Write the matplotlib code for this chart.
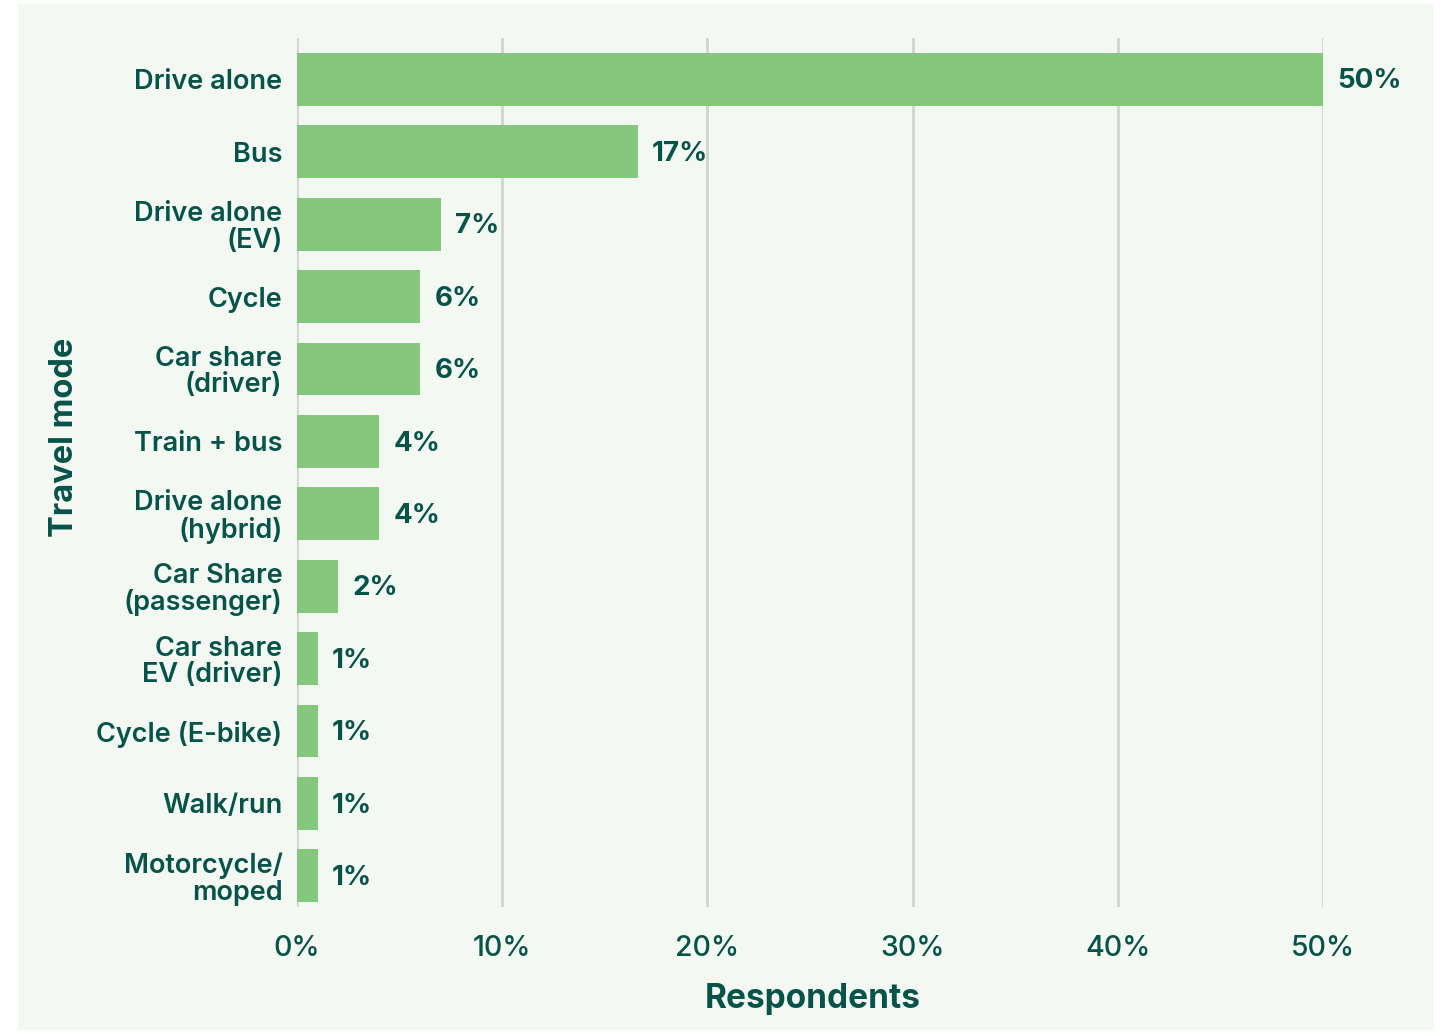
import matplotlib
matplotlib.use('Agg')
import matplotlib.pyplot as plt
from matplotlib.patches import Rectangle

plt.rcParams['font.family'] = ['Inter', 'DejaVu Sans']

modes = ['Drive alone', 'Bus', 'Drive alone\n(EV)', 'Cycle', 'Car share\n(driver)',
         'Train + bus', 'Drive alone\n(hybrid)', 'Car Share\n(passenger)',
         'Car share\nEV (driver)', 'Cycle (E-bike)', 'Walk/run', 'Motorcycle/\nmoped']
shares = [50, 16.6, 7, 6, 6, 4, 4, 2, 1, 1, 1, 1]
labels = ['50%', '17%', '7%', '6%', '6%', '4%', '4%', '2%', '1%', '1%', '1%', '1%']
xticks = [0, 10, 20, 30, 40, 50]

text_col = '#06534a'
bar_col = '#86c77e'
grid_col = '#d3d3cf'
panel_col = '#f3f8f2'

W, H = 1446, 1033
fig = plt.figure(figsize=(W / 100, H / 100), dpi=100)
fig.patch.set_facecolor('white')
fig.patches.append(Rectangle((18 / W, 3 / H), (1434 - 18) / W, (1030 - 4) / H,
                             transform=fig.transFigure, facecolor=panel_col,
                             edgecolor='none', zorder=-10))

ax = fig.add_axes([297 / W, 1 - 907 / H, (1323 - 297) / W, (907 - 38) / H])
ax.set_facecolor('none')

y = list(range(len(modes)))
ax.barh(y, shares, height=0.73, color=bar_col, zorder=3)
for yi, v, lab in zip(y, shares, labels):
    ax.text(v + 0.7, yi + 0.03, lab, va='center', ha='left', fontsize=20,
            fontweight='bold', color=text_col)

ax.set_xlim(0, 50)
ax.set_ylim(len(modes) - 0.57, -0.57)
ax.set_yticks(y)
ax.set_yticklabels(modes, fontsize=19.5, color=text_col, fontweight='semibold',
                   linespacing=1.02)
ax.set_xticks(xticks)
ax.set_xticklabels([f'{t}%' for t in xticks], fontsize=20.5, color=text_col,
                   fontweight='medium')
ax.tick_params(length=0)
ax.tick_params(axis='y', pad=10.5)
ax.tick_params(axis='x', pad=20)

ax.grid(axis='x', color=grid_col, linewidth=2, zorder=0)
for s in ax.spines.values():
    s.set_visible(False)

ax.set_xlabel('Respondents', fontsize=24, fontweight='bold', color=text_col)
ax.xaxis.set_label_coords(0.503, -0.088)
ax.set_ylabel('Travel mode', fontsize=23.5, fontweight='bold', color=text_col)
ax.yaxis.set_label_coords(-0.2115, 0.54)

fig.savefig('out.png', dpi=100)
